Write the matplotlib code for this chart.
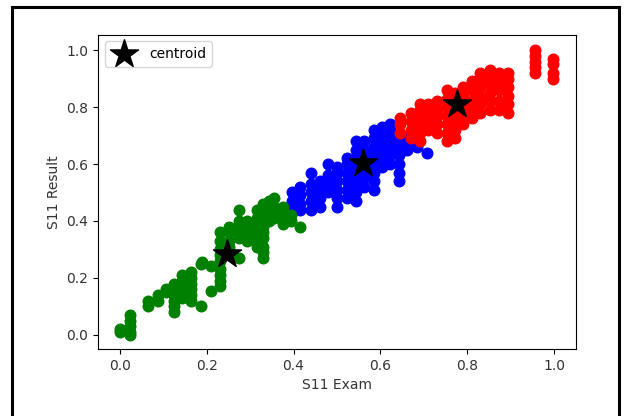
import matplotlib
matplotlib.use("Agg")
import matplotlib.pyplot as plt
from matplotlib.patches import Rectangle

# ---------------- DATA ----------------
# each cluster: (exam score, [result scores])
green_cols = [
    (0.000, [0.01, 0.02]),
    (0.024, [0.0, 0.01, 0.03, 0.05, 0.07]),
    (0.064, [0.10, 0.12]),
    (0.087, [0.12, 0.14]),
    (0.106, [0.15, 0.16]),
    (0.125, [0.08, 0.10, 0.12, 0.14, 0.16, 0.18]),
    (0.144, [0.13, 0.15, 0.17, 0.19, 0.21]),
    (0.163, [0.12, 0.14, 0.16, 0.18, 0.20, 0.22]),
    (0.186, [0.10, 0.25]),
    (0.190, [0.255]),
    (0.209, [0.155, 0.24]),
    (0.230, [0.17, 0.19, 0.21, 0.23, 0.26, 0.28, 0.30, 0.33, 0.36]),
    (0.251, [0.31, 0.33, 0.36, 0.38]),
    (0.274, [0.27, 0.34, 0.36, 0.38, 0.40, 0.44]),
    (0.293, [0.33, 0.35, 0.37, 0.40]),
    (0.317, [0.31, 0.33, 0.35, 0.37, 0.39, 0.41, 0.44]),
    (0.330, [0.27, 0.29, 0.31, 0.34, 0.36, 0.38, 0.40, 0.43, 0.46]),
    (0.343, [0.40, 0.43, 0.45, 0.47]),
    (0.355, [0.41, 0.43, 0.45, 0.48]),
    (0.376, [0.39, 0.41, 0.43, 0.45]),
    (0.395, [0.40, 0.42]),
    (0.416, [0.38]),
]

blue_cols = [
    (0.397, [0.44, 0.47, 0.50]),
    (0.416, [0.44, 0.46, 0.49, 0.52]),
    (0.440, [0.44, 0.47, 0.50, 0.53, 0.57]),
    (0.462, [0.45, 0.48, 0.51, 0.54]),
    (0.480, [0.50, 0.53, 0.56, 0.60]),
    (0.500, [0.45, 0.48, 0.51, 0.54, 0.57, 0.59]),
    (0.523, [0.48, 0.51, 0.54, 0.57, 0.60, 0.62]),
    (0.543, [0.47, 0.50, 0.53, 0.56, 0.59, 0.62, 0.65, 0.68]),
    (0.561, [0.52, 0.55, 0.58, 0.62, 0.65, 0.68]),
    (0.584, [0.51, 0.54, 0.57, 0.60, 0.63, 0.66, 0.69, 0.72]),
    (0.604, [0.59, 0.62, 0.65, 0.68, 0.71, 0.73]),
    (0.623, [0.60, 0.63, 0.66, 0.69, 0.72, 0.74]),
    (0.642, [0.54, 0.57, 0.60, 0.63, 0.66, 0.68]),
    (0.660, [0.65, 0.67, 0.69]),
    (0.684, [0.66]),
    (0.707, [0.64]),
]

red_cols = [
    (0.646, [0.71, 0.74, 0.76]),
    (0.670, [0.69, 0.72, 0.75, 0.78]),
    (0.690, [0.68, 0.71, 0.74, 0.77, 0.79, 0.81]),
    (0.710, [0.72, 0.75, 0.78, 0.81]),
    (0.730, [0.71, 0.74, 0.77, 0.79, 0.82]),
    (0.753, [0.68, 0.71, 0.74, 0.77, 0.80, 0.83, 0.86]),
    (0.772, [0.69, 0.72, 0.75, 0.78, 0.82, 0.85]),
    (0.790, [0.74, 0.77, 0.80, 0.84, 0.87]),
    (0.810, [0.76, 0.79, 0.82, 0.86, 0.89]),
    (0.830, [0.78, 0.81, 0.84, 0.87, 0.90, 0.92]),
    (0.853, [0.79, 0.82, 0.85, 0.88, 0.91, 0.93]),
    (0.872, [0.79, 0.82, 0.86, 0.89, 0.92]),
    (0.894, [0.78, 0.81, 0.84, 0.87, 0.90, 0.92]),
    (0.956, [0.92, 0.94, 0.96, 0.98, 1.00]),
    (0.998, [0.90, 0.92, 0.95, 0.97]),
]

centroid_x = [0.246, 0.559, 0.777]
centroid_y = [0.285, 0.602, 0.810]
# --------------------------------------


def flatten(cols):
    xs, ys = [], []
    for x, col in cols:
        for y in col:
            xs.append(x)
            ys.append(y)
    return xs, ys


fig = plt.figure(figsize=(6.27, 4.16), dpi=100)
ax = fig.add_axes([98 / 627, 1 - 349 / 416, 478 / 627, 314.5 / 416])

for cols, color in [(blue_cols, "blue"), (green_cols, "green"), (red_cols, "red")]:
    xs, ys = flatten(cols)
    ax.scatter(xs, ys, color=color, s=58)

ax.scatter(centroid_x, centroid_y, color="black", marker="*", s=450, label="centroid")

ax.set_xlim(-0.05, 1.05)
ax.set_ylim(-0.05, 1.055)
ax.set_xticks([0.0, 0.2, 0.4, 0.6, 0.8, 1.0])
ax.set_yticks([0.0, 0.2, 0.4, 0.6, 0.8, 1.0])
ax.set_xlabel("S11 Exam", color="#333333")
ax.set_ylabel("S11 Result", color="#333333")
ax.tick_params(labelcolor="#333333")
ax.legend(loc="upper left")

# screenshot frame around the figure
fig.patches.append(Rectangle((12 / 627, -0.1), 607 / 627, 1.1 - 7 / 416,
                             transform=fig.transFigure, fill=False,
                             edgecolor="black", linewidth=2.2))

fig.savefig("out.png", dpi=100)
